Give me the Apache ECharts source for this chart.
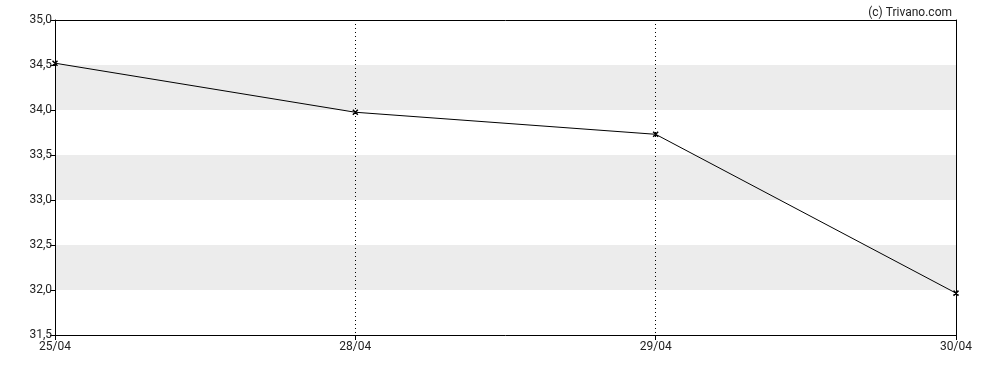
<!DOCTYPE html>
<html><head><meta charset="utf-8">
<script src="https://cdn.jsdelivr.net/npm/echarts@6/dist/echarts.min.js"></script>
<style>html,body{margin:0;padding:0;background:#fff}#c{width:988px;height:370px}</style>
</head><body><div id="c"></div>
<script>
const categories = ['25/04', '28/04', '29/04', '30/04'];
const values = [34.52, 33.975, 33.73, 31.965];
const yMin = 31.5, yMax = 35.0, yStep = 0.5;

const chart = echarts.init(document.getElementById('c'), null, {renderer: 'canvas'});
const font = 'Roboto, "Liberation Sans", Arial, sans-serif';
const last = categories.length - 1;
chart.setOption({
  animation: false,
  backgroundColor: '#fff',
  title: {
    text: '(c) Trivano.com', right: 31, top: 2,
    textStyle: {fontFamily: font, fontSize: 12, fontWeight: 'normal', color: '#222'}
  },
  grid: {left: 55, right: 32, top: 20, bottom: 35, show: false},
  xAxis: [{
    type: 'category', data: categories, boundaryGap: false,
    axisLine: {lineStyle: {color: '#000', width: 1}},
    axisTick: {show: true, length: 5, lineStyle: {color: '#000'}},
    axisLabel: {fontFamily: font, fontSize: 12, color: '#222', margin: 6},
    splitLine: {show: true, interval: (i) => i !== 0 && i !== last,
      lineStyle: {color: '#000', type: [1, 3], width: 1}}
  }, {
    type: 'category', data: categories, boundaryGap: false, position: 'top',
    axisLine: {show: true, lineStyle: {color: '#000', width: 1}},
    axisTick: {show: false}, axisLabel: {show: false}, splitLine: {show: false}
  }],
  yAxis: [{
    type: 'value', min: yMin, max: yMax, interval: yStep,
    axisLine: {show: true, lineStyle: {color: '#000', width: 1}},
    axisTick: {show: true, length: 5, lineStyle: {color: '#000'}},
    axisLabel: {fontFamily: font, fontSize: 12, color: '#222', margin: 3,
      formatter: v => v.toFixed(1).replace('.', ',')},
    splitLine: {show: false},
    splitArea: {show: true, areaStyle: {color: ['#ffffff', '#ececec']}}
  }, {
    type: 'value', min: yMin, max: yMax, interval: yStep, position: 'right',
    axisLine: {show: true, lineStyle: {color: '#000', width: 1}},
    axisTick: {show: false}, axisLabel: {show: false},
    splitLine: {show: false}, splitArea: {show: false}
  }],
  series: [{
    type: 'line', data: values,
    symbol: 'path://M0,0 L10,10 M10,0 L0,10 Z',
    symbolSize: 5,
    itemStyle: {color: '#000', borderColor: '#000', borderWidth: 1.5},
    lineStyle: {color: '#000', width: 1},
    silent: true
  }]
});
</script></body></html>
